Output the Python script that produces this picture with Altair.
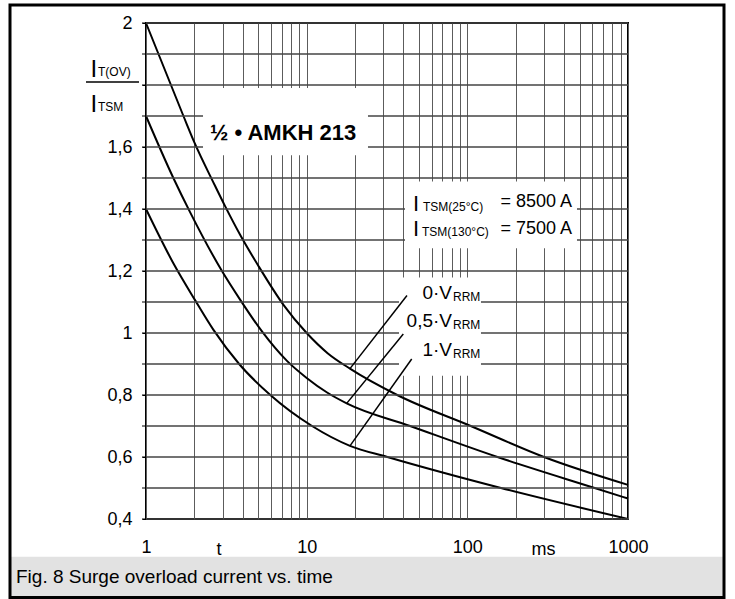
import altair as alt
import pandas as pd

FONT = "Liberation Sans"
GRID = "#5c5c5c"
HGRID = "#454545"

# ---- curve readings: t in ms, ratio I_T(OV)/I_TSM ----
t_0 = [1, 1.71, 2, 2.66, 3.1, 3.86, 5, 7.19, 10, 13.5, 18.6, 36.6, 105, 300, 1000]
v_0 = [2.0, 1.70, 1.615, 1.48, 1.41, 1.316, 1.217, 1.09, 1.0, 0.935, 0.885, 0.80, 0.70, 0.60, 0.51]
t_05 = [1, 1.48, 1.88, 2.97, 3.86, 5.27, 7.54, 10, 13.4, 17.75, 44, 154, 620, 1000]
v_05 = [1.70, 1.50, 1.39, 1.20, 1.107, 1.005, 0.91, 0.855, 0.808, 0.773, 0.70, 0.60, 0.50, 0.466]
t_1 = [1, 1.48, 2.02, 2.63, 3.8, 5.94, 10.8, 18.6, 31.8, 162, 1000]
v_1 = [1.40, 1.225, 1.106, 1.01, 0.90, 0.80, 0.70, 0.636, 0.60, 0.50, 0.40]

# ---- axes ----
x_grid = [1, 2, 3, 4, 5, 6, 7, 8, 9, 10, 20, 30, 40, 50, 60, 70, 80, 90,
          100, 200, 300, 400, 500, 600, 700, 800, 900, 1000]
y_grid = [0.4, 0.5, 0.6, 0.7, 0.8, 0.9, 1.0, 1.1, 1.2, 1.3, 1.4, 1.5, 1.6,
          1.7, 1.8, 1.9, 2.0]

# ---- leader lines (curve point -> label) ----
lead_t = [18.6, 17.75, 18.6]
lead_v = [0.885, 0.773, 0.636]
lead_t2 = [42.1, 39.94, 45.06]
lead_v2 = [1.121, 0.997, 0.916]
curve_labels = ["0·V", "0,5·V", "1·V"]
label_v = [1.110, 1.0206, 0.9269]

# ---- white label boxes (t1, t2, v1, v2) ----
box_t1 = [2.264, 40.93, 37.56]
box_t2 = [24.08, 481.4, 121.6]
box_v1 = [1.790, 1.489, 1.179]
box_v2 = [1.573, 1.273, 0.862]

xscale = alt.Scale(type="log", domain=[1, 1000], nice=False)
yscale = alt.Scale(domain=[0.4, 2], nice=False, zero=False)


def X(f, axis=None):
    if axis is None:
        return alt.X(f, type="quantitative", scale=xscale, title=None)
    return alt.X(f, type="quantitative", scale=xscale, axis=axis)


def Y(f, axis=None):
    if axis is None:
        return alt.Y(f, type="quantitative", scale=yscale, title=None)
    return alt.Y(f, type="quantitative", scale=yscale, axis=axis)


rows = []
for name, ts, vs in [("0", t_0, v_0), ("0.5", t_05, v_05), ("1", t_1, v_1)]:
    for t, v in zip(ts, vs):
        rows.append({"t": t, "v": v, "curve": name})
curves_df = pd.DataFrame(rows)

x_axis = alt.Axis(
    values=x_grid, grid=True, ticks=False, domain=False, title=None,
    labelExpr="(datum.value == 1 || datum.value == 10 || datum.value == 100 || datum.value == 1000) ? datum.value + '' : ''",
    labelFont=FONT, labelFontSize=18, labelColor="black", labelPadding=33,
    labelBaseline="alphabetic", labelOverlap=False, labelFlush=False, labelBound=False,
    gridColor=GRID, gridWidth=1, gridOpacity=1,
)
y_axis = alt.Axis(
    values=y_grid, grid=False, ticks=True, tickSize=4, tickColor="black", tickWidth=1,
    domain=False, title=None,
    labelExpr="(round(datum.value*10) % 2 == 0 && round(datum.value*10) != 18) ? replace(format(datum.value, '.1~f'), '.', ',') : ''",
    labelFont=FONT, labelFontSize=18, labelColor="black", labelPadding=10,
    labelOverlap=False, labelFlush=False, labelBound=False,
)

one = pd.DataFrame({"k": [0]})
ygrid_df = pd.DataFrame({"g": y_grid})

# caption band and outer frame (outside the plot area, pixel positions)
band = alt.Chart(one).mark_rect(fill="#e2e2e2").encode(
    x=alt.value(-136), x2=alt.value(578), y=alt.value(533.7), y2=alt.value(574.5))
frame = alt.Chart(one).mark_rect(fill="transparent", stroke="black", strokeWidth=3).encode(
    x=alt.value(-136), x2=alt.value(578), y=alt.value(-18), y2=alt.value(574.5))

curves = alt.Chart(curves_df).mark_line(
    interpolate="monotone", color="black", strokeWidth=2
).encode(x=X("t", x_axis), y=Y("v", y_axis), detail="curve:N")

# horizontal grid lines (full width) and small outward ticks on the left
hgrid = alt.Chart(ygrid_df).mark_rule(color=HGRID, strokeWidth=1.5).encode(
    y=Y("g"))
yticks = alt.Chart(ygrid_df).mark_rule(color="black", strokeWidth=1).encode(
    y=Y("g"), x=alt.value(-4), x2=alt.value(0))

boxes_df = pd.DataFrame({"t1": box_t1, "t2": box_t2, "v1": box_v1, "v2": box_v2})
boxes = alt.Chart(boxes_df).mark_rect(fill="white").encode(
    x=X("t1"), x2="t2", y=Y("v1"), y2="v2")

lead_df = pd.DataFrame({"t": lead_t, "v": lead_v, "t2": lead_t2, "v2": lead_v2})
leaders = alt.Chart(lead_df).mark_rule(color="black", strokeWidth=1.5).encode(
    x=X("t"), y=Y("v"), x2="t2", y2="v2")


def dtext(t, v, s, size, align="left", dx=0, dy=0, bold=False):
    df = pd.DataFrame({"t": [t], "v": [v], "s": [s]})
    return alt.Chart(df).mark_text(
        align=align, baseline="alphabetic", dx=dx, dy=dy, fontSize=size,
        font=FONT, fontWeight="bold" if bold else "normal", color="black"
    ).encode(x=X("t"), y=Y("v"), text=alt.Text("s:N"))


def ptext(x, y, s, size, align="left"):
    df = pd.DataFrame({"s": [s]})
    return alt.Chart(df).mark_text(
        align=align, baseline="alphabetic", fontSize=size, font=FONT, color="black"
    ).encode(x=alt.value(x), y=alt.value(y), text=alt.Text("s:N"))


texts = [
    dtext(2.502, 1.624, "½ • AMKH 213", 22, bold=True),
    # I_TSM lines
    dtext(45.9, 1.394, "I", 22),
    dtext(45.9, 1.394, "TSM(25°C)", 12, dx=10),
    dtext(45.9, 1.394, "= 8500 A", 18, align="right", dx=159, dy=-3.8),
    dtext(45.9, 1.3115, "I", 22),
    dtext(45.9, 1.3115, "TSM(130°C)", 12, dx=9),
    dtext(45.9, 1.3115, "= 7500 A", 18, align="right", dx=159, dy=-2.7),
]
for lab, lv in zip(curve_labels, label_v):
    texts.append(dtext(80.27, lv, lab, 19, align="right"))
    texts.append(dtext(80.27, lv, "RRM", 12, dx=1, dy=2.5))

# y-axis title as a fraction, x-axis unit labels, caption
y_title_line = alt.Chart(one).mark_rule(color="black", strokeWidth=1.5).encode(
    x=alt.value(-60), x2=alt.value(-7), y=alt.value(59), y2=alt.value(59))
outer_texts = [
    ptext(-55.5, 54.3, "I", 24),
    ptext(-48, 53, "T(OV)", 12),
    ptext(-55.5, 89, "I", 24),
    ptext(-48, 88, "TSM", 12),
    ptext(73, 532, "t", 18, align="center"),
    ptext(397.5, 532, "ms", 18, align="center"),
    ptext(-130, 559.7, "Fig. 8 Surge overload current vs. time", 19),
]

chart = alt.layer(
    curves, band, frame, hgrid, yticks, boxes, leaders, y_title_line, *texts, *outer_texts
).properties(
    width=482, height=496,
    padding={"left": 146, "top": 23, "right": 107, "bottom": 80},
    autosize=alt.AutoSizeParams(type="none"),
    background="white",
).configure_view(stroke="black", strokeWidth=2)

chart.save("out.html", embed_options={"renderer": "svg", "actions": False})
